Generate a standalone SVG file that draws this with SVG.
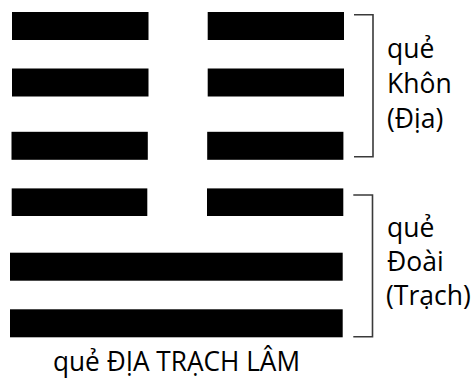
<svg xmlns="http://www.w3.org/2000/svg" width="472" height="378" viewBox="0 0 472 378">
<style>
.bar{fill:#000}
.br{fill:none;stroke:#3a3a3a;stroke-width:1.6}
text{font-family:"Open Sans","Noto Sans",sans-serif;font-size:26.5px;fill:#000}
</style>
<rect width="472" height="378" fill="#fff"/>
<g id="upper-trigram">
<rect class="bar" x="12" y="12" width="136.5" height="28"/>
<rect class="bar" x="207.7" y="12" width="136.3" height="28"/>
<rect class="bar" x="12" y="68.5" width="136.5" height="28"/>
<rect class="bar" x="207.7" y="68.5" width="136.3" height="28"/>
<rect class="bar" x="11.5" y="131.8" width="136.3" height="28"/>
<rect class="bar" x="207.2" y="131.8" width="136.2" height="28"/>
</g>
<g id="lower-trigram">
<rect class="bar" x="11.7" y="188.4" width="135.6" height="27.6"/>
<rect class="bar" x="207" y="188.4" width="136.3" height="27.6"/>
<rect class="bar" x="10" y="252.7" width="332.7" height="28"/>
<rect class="bar" x="10" y="309.3" width="332.7" height="28"/>
</g>
<g id="connectors">
<path class="br" d="M354 14.7 H373 V156.7 H354"/>
<path class="br" d="M353.3 195 H372.5 V336.7 H353.3"/>
</g>
<g id="label-khon">
<text x="387" y="58">quẻ</text>
<text x="387" y="93">Khôn</text>
<text x="387" y="127.5">(Địa)</text>
</g>
<g id="label-doai">
<text x="387" y="237">quẻ</text>
<text x="387" y="270.5">Đoài</text>
<text x="386" y="305">(Trạch)</text>
</g>
<g id="title">
<text x="53" y="371" textLength="247" lengthAdjust="spacingAndGlyphs">quẻ ĐỊA TRẠCH LÂM</text>
</g>
</svg>
